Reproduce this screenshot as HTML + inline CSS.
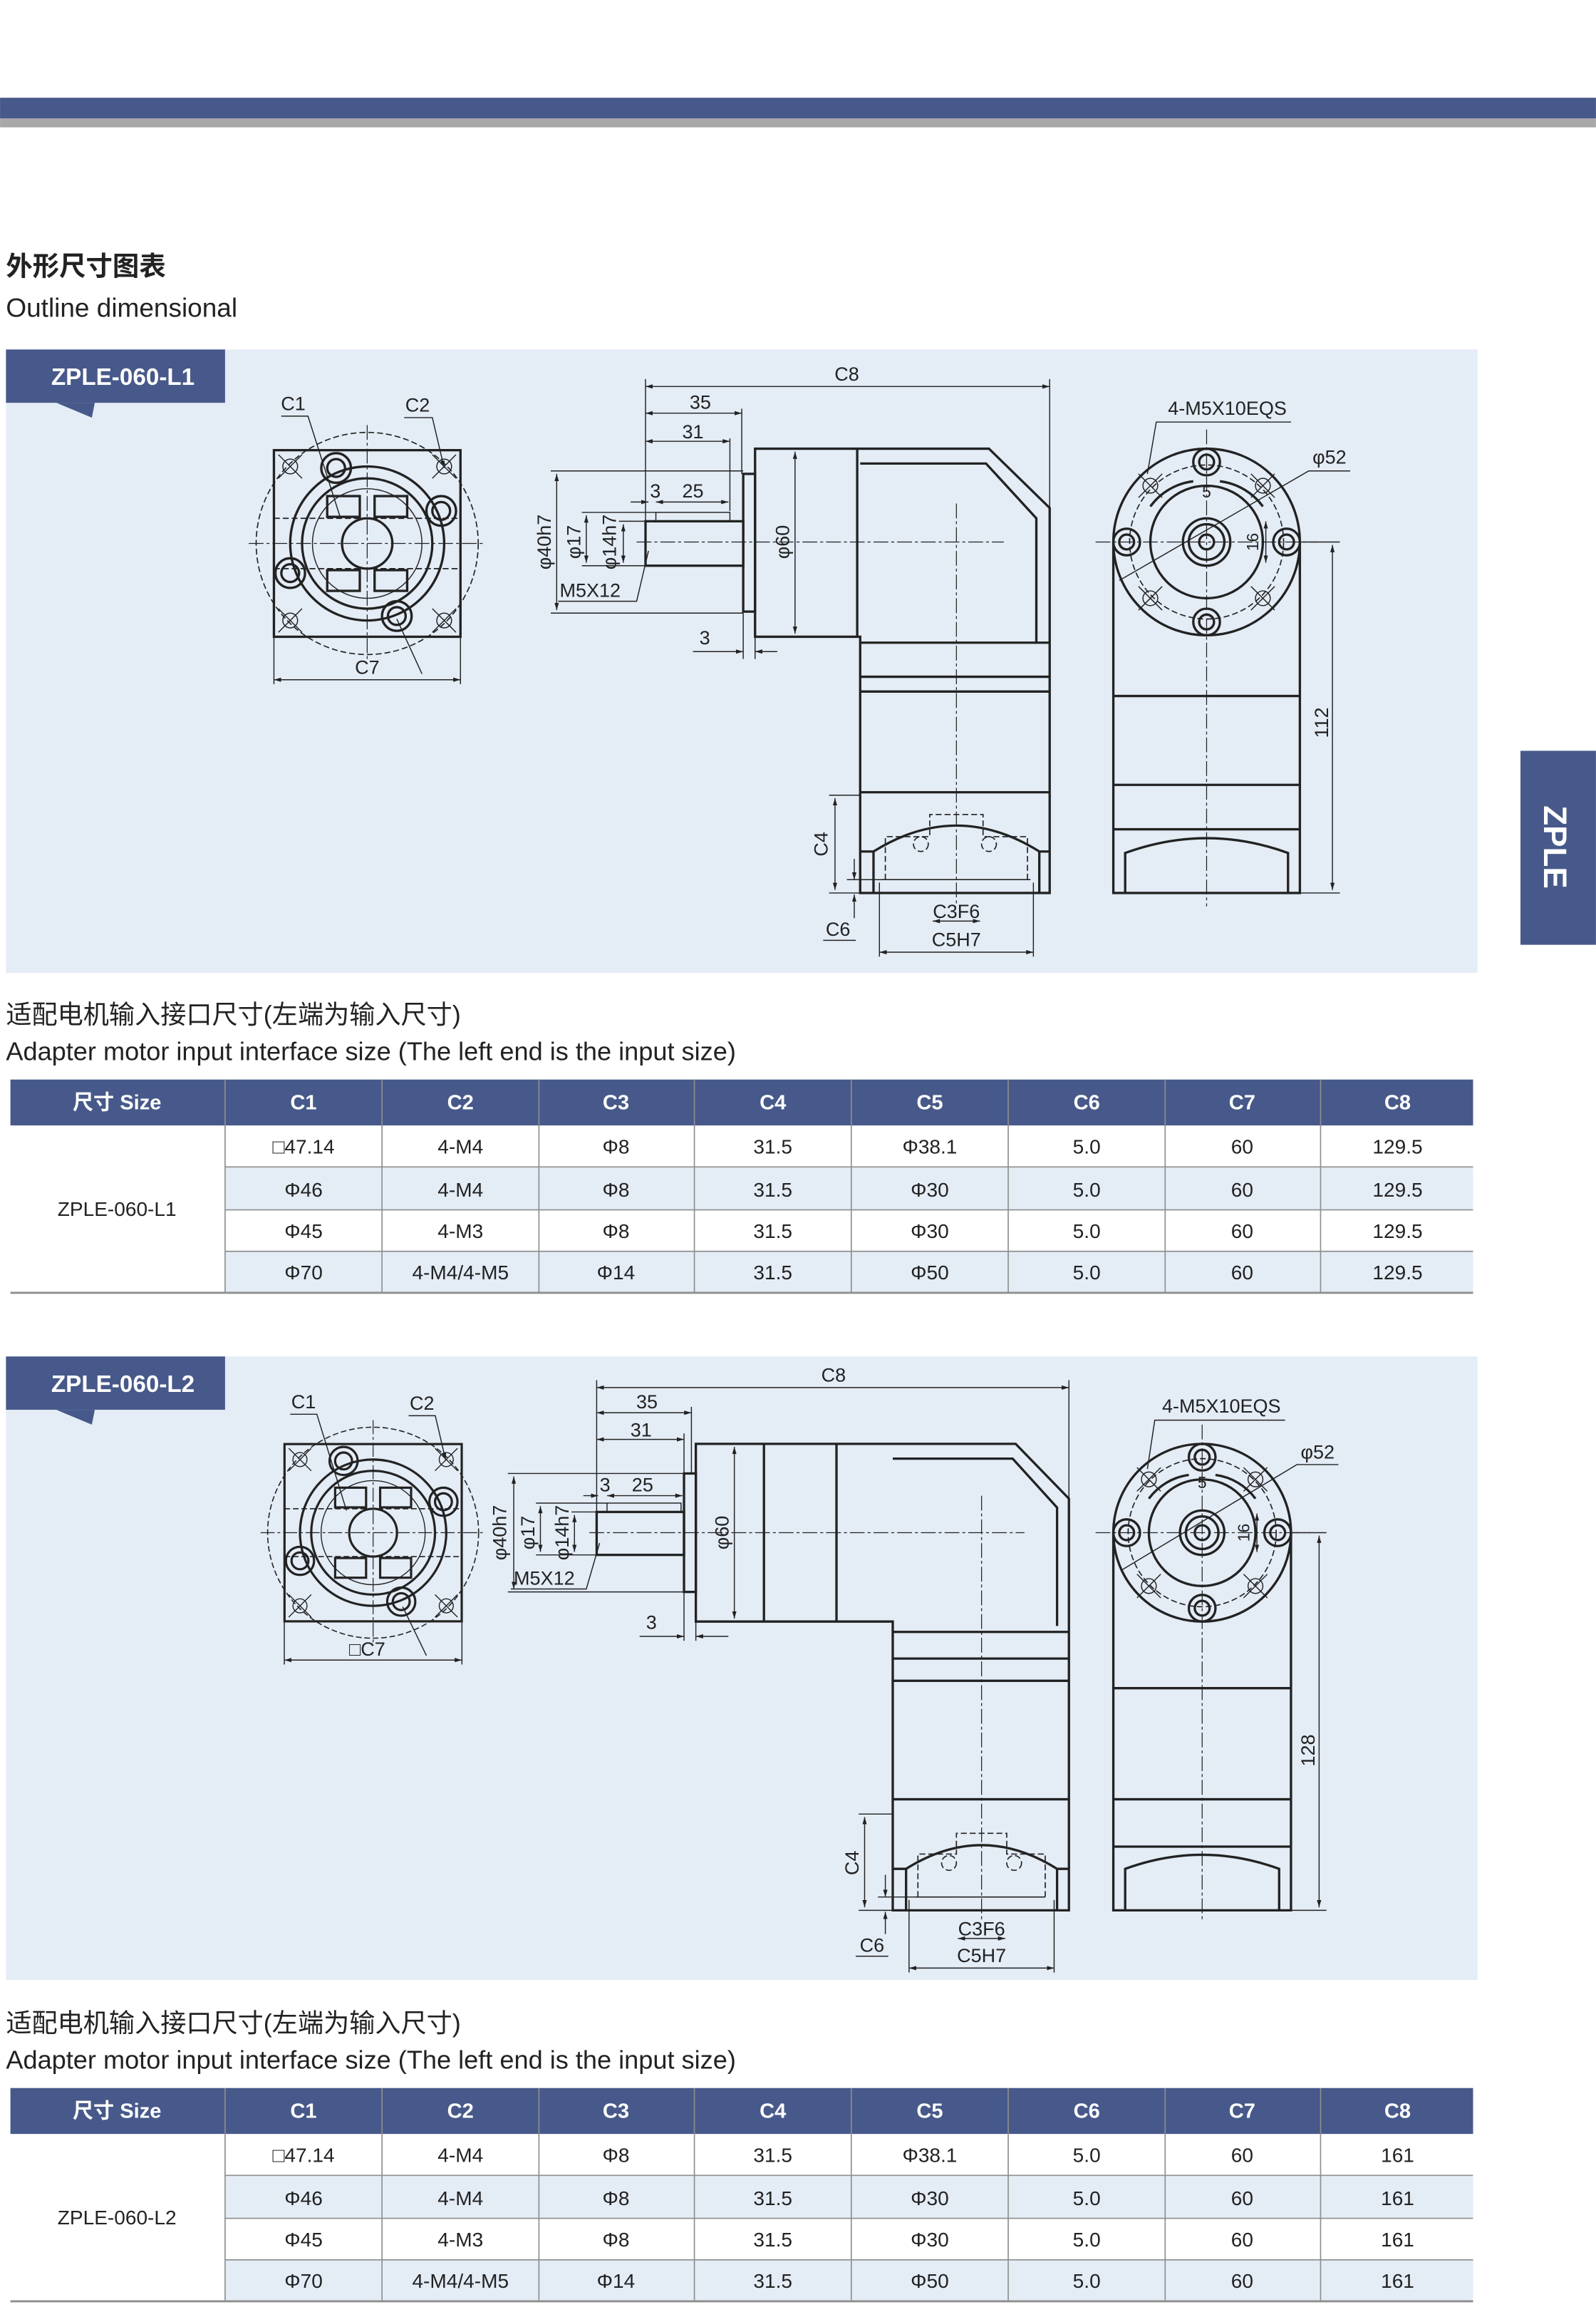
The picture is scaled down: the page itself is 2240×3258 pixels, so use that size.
<!DOCTYPE html>
<html><head><meta charset="utf-8">
<style>
html,body{margin:0;padding:0;background:#fff;}
svg{display:block;}
text{font-family:"Liberation Sans","Noto Sans CJK SC",sans-serif;fill:#222;}
.k{stroke:#222;fill:none;stroke-width:1.6;}
.t{stroke:#222;fill:none;stroke-width:0.7;}
.d{stroke:#222;fill:none;stroke-width:0.8;stroke-dasharray:4 2;}
.c{stroke:#222;fill:none;stroke-width:0.6;stroke-dasharray:10 2 2 2;}
.lab{font-size:13px;}
.th{font-size:14px;font-weight:bold;fill:#fff;}
.td{font-size:13.5px;fill:#222;}
</style></head><body>
<svg width="2240" height="3258" viewBox="0 0 1078 1568" xmlns="http://www.w3.org/2000/svg">
<defs>
<marker id="a" viewBox="0 0 10 10" refX="10" refY="5" markerWidth="7" markerHeight="7" orient="auto-start-reverse"><path d="M0,2 L10,5 L0,8 z" fill="#222"/></marker>
<g id="fl">
<rect x="-63" y="-63" width="126" height="126" class="k"/>
<circle r="75" class="d"/>
<circle r="52" class="k"/><circle r="44" class="k"/><circle r="37" class="t"/>
<circle r="17" class="k"/>
<line x1="-80" y1="0" x2="80" y2="0" class="c"/><line x1="0" y1="-80" x2="0" y2="80" class="c"/>
<line x1="-63" y1="-17" x2="63" y2="-17" class="d"/><line x1="-63" y1="17" x2="63" y2="17" class="d"/>
<rect x="-27" y="-32" width="22" height="14" class="k"/><rect x="5" y="-32" width="22" height="14" class="k"/>
<rect x="-27" y="18" width="22" height="14" class="k"/><rect x="5" y="18" width="22" height="14" class="k"/>
<g class="k"><circle cx="-21" cy="-51" r="10"/><circle cx="-21" cy="-51" r="6"/>
<circle cx="50" cy="-22" r="10"/><circle cx="50" cy="-22" r="6"/>
<circle cx="-52" cy="20" r="10"/><circle cx="-52" cy="20" r="6"/>
<circle cx="20" cy="49" r="10"/><circle cx="20" cy="49" r="6"/></g>
<g class="t"><circle cx="-52" cy="-52" r="5"/><circle cx="52" cy="-52" r="5"/><circle cx="-52" cy="52" r="5"/><circle cx="52" cy="52" r="5"/>
<path d="M-60,-60 L-44,-44 M-44,-60 L-60,-44 M44,-60 L60,-44 M60,-60 L44,-44 M-60,44 L-44,60 M-44,44 L-60,60 M44,44 L60,60 M60,44 L44,60"/></g>
</g>
</defs>

<rect width="1078" height="1568" fill="#fff"/>
<rect x="0" y="66" width="1078" height="14" fill="#47598a"/>
<rect x="0" y="80" width="1078" height="6" fill="#a8a8a8"/>
<text x="4" y="186" style="font-size:18px;font-weight:bold">外形尺寸图表</text>
<text x="4" y="214" style="font-size:17.8px">Outline dimensional</text>

<rect x="1027" y="507" width="51" height="131" fill="#47598a"/>
<text transform="translate(1043,572) rotate(90)" text-anchor="middle" style="font-size:22px;font-weight:bold;fill:#fff">ZPLE</text>

<!-- PANEL 1 -->
<rect x="4" y="236" width="994" height="421" fill="#e4ecf6"/>
<rect x="4" y="236" width="148" height="36" fill="#47598a"/>
<path d="M38,272 L64,272 L62,282 z" fill="#47598a"/>
<text x="83" y="260" text-anchor="middle" style="font-size:16px;font-weight:bold;fill:#fff">ZPLE-060-L1</text>

<use href="#fl" x="248" y="367"/>
<text x="198" y="277" class="lab" text-anchor="middle">C1</text>
<text x="282" y="278" class="lab" text-anchor="middle">C2</text>
<path d="M190,281 L208,281 L230,350" class="t"/>
<path d="M273,282 L292,282 L300,316" class="t" marker-end="url(#a)"/>
<line x1="268" y1="418" x2="285" y2="455" class="t"/>
<text x="248" y="455" class="lab" text-anchor="middle">C7</text>
<line x1="185" y1="459" x2="311" y2="459" class="t" marker-start="url(#a)" marker-end="url(#a)"/>
<line x1="185" y1="430" x2="185" y2="462" class="t"/><line x1="311" y1="430" x2="311" y2="462" class="t"/>

<g>
<line x1="436" y1="256" x2="436" y2="352" class="t"/><line x1="709" y1="256" x2="709" y2="345" class="t"/>
<line x1="436" y1="261" x2="709" y2="261" class="t" marker-start="url(#a)" marker-end="url(#a)"/>
<text x="572" y="257" class="lab" text-anchor="middle">C8</text>
<line x1="501" y1="276" x2="501" y2="320" class="t"/>
<line x1="436" y1="279" x2="501" y2="279" class="t" marker-start="url(#a)" marker-end="url(#a)"/>
<text x="473" y="276" class="lab" text-anchor="middle">35</text>
<line x1="436" y1="298" x2="493" y2="298" class="t" marker-start="url(#a)" marker-end="url(#a)"/>
<text x="468" y="296" class="lab" text-anchor="middle">31</text>
<line x1="493" y1="296" x2="493" y2="345" class="t"/>
<text x="439" y="336" class="lab">3</text><text x="468" y="336" class="lab" text-anchor="middle">25</text>
<line x1="426" y1="339" x2="438" y2="339" class="t" marker-end="url(#a)"/>
<line x1="443" y1="339" x2="492" y2="339" class="t" marker-start="url(#a)" marker-end="url(#a)"/>
<rect x="436" y="352" width="66" height="30" class="k"/>
<rect x="443" y="346" width="50" height="6" class="t"/>
<rect x="502" y="320" width="8" height="93" class="k"/>
<path d="M510,303 L668,303 L709,343 L709,603 L581,603 L581,430 L510,430 Z" class="k"/>
<line x1="579" y1="303" x2="579" y2="430" class="k"/>
<path d="M581,313 L666,313 L700,350 L700,434" class="k"/>
<line x1="581" y1="434" x2="709" y2="434" class="k"/>
<line x1="581" y1="457" x2="709" y2="457" class="k"/>
<line x1="581" y1="467" x2="709" y2="467" class="k"/>
<line x1="581" y1="535" x2="709" y2="535" class="k"/>
<path d="M581,575 L590,575 Q646,540 702,575 L709,575" class="k"/>
<line x1="590" y1="575" x2="590" y2="603" class="k"/><line x1="702" y1="575" x2="702" y2="603" class="k"/>
<path d="M598,594 L598,565 L628,565 L628,550 L664,550 L664,565 L694,565 L694,594 Z M596,594 L696,594" class="d"/>
<circle cx="622" cy="570" r="5" class="d"/><circle cx="668" cy="570" r="5" class="d"/>
<line x1="646" y1="340" x2="646" y2="612" class="c"/>
<line x1="430" y1="366" x2="678" y2="366" class="c"/>
<line x1="372" y1="318" x2="502" y2="318" class="t"/><line x1="372" y1="414" x2="502" y2="414" class="t"/>
<line x1="376" y1="320" x2="376" y2="412" class="t" marker-start="url(#a)" marker-end="url(#a)"/>
<text transform="translate(372,366) rotate(-90)" class="lab" text-anchor="middle">φ40h7</text>
<line x1="393" y1="346" x2="443" y2="346" class="t"/><line x1="393" y1="382" x2="436" y2="382" class="t"/>
<line x1="396" y1="348" x2="396" y2="380" class="t" marker-start="url(#a)" marker-end="url(#a)"/>
<text transform="translate(392,366) rotate(-90)" class="lab" text-anchor="middle">φ17</text>
<line x1="418" y1="352" x2="436" y2="352" class="t"/>
<line x1="421" y1="354" x2="421" y2="380" class="t" marker-start="url(#a)" marker-end="url(#a)"/>
<text transform="translate(416,366) rotate(-90)" class="lab" text-anchor="middle">φ14h7</text>
<text x="378" y="403" class="lab">M5X12</text>
<path d="M377,406 L430,406 L438,372" class="t"/>
<text x="476" y="435" class="lab" text-anchor="middle">3</text>
<line x1="468" y1="440" x2="502" y2="440" class="t" marker-end="url(#a)"/>
<line x1="510" y1="440" x2="525" y2="440" class="t" marker-start="url(#a)"/>
<line x1="502" y1="414" x2="502" y2="445" class="t"/><line x1="510" y1="430" x2="510" y2="445" class="t"/>
<line x1="537" y1="305" x2="537" y2="428" class="t" marker-start="url(#a)" marker-end="url(#a)"/>
<text transform="translate(533,366) rotate(-90)" class="lab" text-anchor="middle">φ60</text>
<line x1="560" y1="537" x2="581" y2="537" class="t"/><line x1="560" y1="603" x2="590" y2="603" class="t"/>
<line x1="564" y1="539" x2="564" y2="601" class="t" marker-start="url(#a)" marker-end="url(#a)"/>
<text transform="translate(559,570) rotate(-90)" class="lab" text-anchor="middle">C4</text>
<line x1="577" y1="580" x2="577" y2="594" class="t" marker-end="url(#a)"/>
<line x1="577" y1="620" x2="577" y2="604" class="t" marker-end="url(#a)"/>
<line x1="572" y1="594" x2="598" y2="594" class="t"/>
<text x="566" y="632" class="lab" text-anchor="middle">C6</text>
<line x1="556" y1="635" x2="578" y2="635" class="t"/>
<text x="646" y="620" class="lab" text-anchor="middle">C3F6</text>
<line x1="630" y1="622" x2="662" y2="622" class="t" marker-start="url(#a)" marker-end="url(#a)"/>
<text x="646" y="639" class="lab" text-anchor="middle">C5H7</text>
<line x1="594" y1="643" x2="698" y2="643" class="t" marker-start="url(#a)" marker-end="url(#a)"/>
<line x1="594" y1="596" x2="594" y2="646" class="t"/><line x1="698" y1="596" x2="698" y2="646" class="t"/>
</g>

<g>
<path d="M752,366 L752,603 L878,603 L878,366" class="k"/>
<circle cx="815" cy="366" r="63" class="k" fill="#e4ecf6"/>
<circle cx="815" cy="366" r="52" class="d"/>
<path d="M777,342 A42,42 0 0 1 806,325 M824,325 A42,42 0 0 1 853,342" class="k"/>
<circle cx="815" cy="366" r="38" class="k"/>
<circle cx="815" cy="366" r="16" class="k"/><circle cx="815" cy="366" r="12" class="k"/><circle cx="815" cy="366" r="5" class="k"/>
<g class="k"><circle cx="815" cy="312" r="9"/><circle cx="815" cy="312" r="5"/><circle cx="815" cy="420" r="9"/><circle cx="815" cy="420" r="5"/>
<circle cx="761" cy="366" r="9"/><circle cx="761" cy="366" r="5"/><circle cx="869" cy="366" r="9"/><circle cx="869" cy="366" r="5"/></g>
<g class="t"><circle cx="777" cy="328" r="5"/><circle cx="853" cy="328" r="5"/><circle cx="777" cy="404" r="5"/><circle cx="853" cy="404" r="5"/>
<path d="M769,320 L785,336 M785,320 L769,336 M845,320 L861,336 M861,320 L845,336 M769,396 L785,412 M785,396 L769,412 M845,396 L861,412 M861,396 L845,412"/></g>
<line x1="740" y1="366" x2="890" y2="366" class="c"/>
<line x1="815" y1="290" x2="815" y2="612" class="c"/>
<line x1="752" y1="470" x2="878" y2="470" class="k"/>
<line x1="752" y1="530" x2="878" y2="530" class="k"/>
<line x1="752" y1="560" x2="878" y2="560" class="k"/>
<path d="M760,603 L760,576 Q815,556 870,576 L870,603" class="k"/>
<line x1="878" y1="366" x2="905" y2="366" class="t"/><line x1="878" y1="603" x2="905" y2="603" class="t"/>
<line x1="900" y1="368" x2="900" y2="601" class="t" marker-start="url(#a)" marker-end="url(#a)"/>
<text transform="translate(897,488) rotate(-90)" class="lab" text-anchor="middle">112</text>
<text x="829" y="280" class="lab" text-anchor="middle">4-M5X10EQS</text>
<path d="M872,285 L781,285 L775,320" class="t"/>
<text x="898" y="313" class="lab" text-anchor="middle">φ52</text>
<path d="M912,318 L884,318 L756,392" class="t"/>
<text transform="translate(850,366) rotate(-90)" class="lab" text-anchor="middle" style="font-size:11px">16</text>
<line x1="855" y1="352" x2="855" y2="380" class="t" marker-start="url(#a)" marker-end="url(#a)"/>
<text x="815" y="336" class="lab" text-anchor="middle" style="font-size:11px">5</text>
</g>

<text x="4" y="691" style="font-size:17.4px">适配电机输入接口尺寸(左端为输入尺寸)</text>
<text x="4" y="716" style="font-size:17.4px">Adapter motor input interface size (The left end is the input size)</text>

<g>
<rect x="7" y="729" width="988" height="31" fill="#47598a"/>
<rect x="152" y="788" width="843" height="29" fill="#e4ecf6"/>
<rect x="152" y="845" width="843" height="28" fill="#e4ecf6"/>
<g stroke="#8e8e8e" stroke-width="0.8">
<line x1="152" y1="729" x2="152" y2="873"/><line x1="258" y1="729" x2="258" y2="873"/><line x1="364" y1="729" x2="364" y2="873"/><line x1="469" y1="729" x2="469" y2="873"/><line x1="575" y1="729" x2="575" y2="873"/><line x1="681" y1="729" x2="681" y2="873"/><line x1="787" y1="729" x2="787" y2="873"/><line x1="892" y1="729" x2="892" y2="873"/>
<line x1="152" y1="788" x2="995" y2="788"/><line x1="152" y1="817" x2="995" y2="817"/><line x1="152" y1="845" x2="995" y2="845"/>
<line x1="7" y1="873" x2="995" y2="873" stroke-width="1.4"/></g>
<g text-anchor="middle">
<text x="79" y="749" class="th">尺寸 Size</text><text x="205" y="749" class="th">C1</text><text x="311" y="749" class="th">C2</text><text x="416" y="749" class="th">C3</text><text x="522" y="749" class="th">C4</text><text x="628" y="749" class="th">C5</text><text x="734" y="749" class="th">C6</text><text x="839" y="749" class="th">C7</text><text x="944" y="749" class="th">C8</text>
<text x="79" y="821" class="td">ZPLE-060-L1</text>
<text x="205" y="779" class="td">□47.14</text><text x="311" y="779" class="td">4-M4</text><text x="416" y="779" class="td">Φ8</text><text x="522" y="779" class="td">31.5</text><text x="628" y="779" class="td">Φ38.1</text><text x="734" y="779" class="td">5.0</text><text x="839" y="779" class="td">60</text><text x="944" y="779" class="td">129.5</text>
<text x="205" y="808" class="td">Φ46</text><text x="311" y="808" class="td">4-M4</text><text x="416" y="808" class="td">Φ8</text><text x="522" y="808" class="td">31.5</text><text x="628" y="808" class="td">Φ30</text><text x="734" y="808" class="td">5.0</text><text x="839" y="808" class="td">60</text><text x="944" y="808" class="td">129.5</text>
<text x="205" y="836" class="td">Φ45</text><text x="311" y="836" class="td">4-M3</text><text x="416" y="836" class="td">Φ8</text><text x="522" y="836" class="td">31.5</text><text x="628" y="836" class="td">Φ30</text><text x="734" y="836" class="td">5.0</text><text x="839" y="836" class="td">60</text><text x="944" y="836" class="td">129.5</text>
<text x="205" y="864" class="td">Φ70</text><text x="311" y="864" class="td">4-M4/4-M5</text><text x="416" y="864" class="td">Φ14</text><text x="522" y="864" class="td">31.5</text><text x="628" y="864" class="td">Φ50</text><text x="734" y="864" class="td">5.0</text><text x="839" y="864" class="td">60</text><text x="944" y="864" class="td">129.5</text>
</g>
</g>

<!-- PANEL 2 -->
<rect x="4" y="916" width="994" height="421" fill="#e4ecf6"/>
<rect x="4" y="916" width="148" height="36" fill="#47598a"/>
<path d="M38,952 L64,952 L62,962 z" fill="#47598a"/>
<text x="83" y="940" text-anchor="middle" style="font-size:16px;font-weight:bold;fill:#fff">ZPLE-060-L2</text>

<g transform="translate(252,1035) scale(0.95) translate(-252,-1035)"><use href="#fl" x="252" y="1035"/></g>
<text x="205" y="951" class="lab" text-anchor="middle">C1</text>
<text x="285" y="952" class="lab" text-anchor="middle">C2</text>
<path d="M196,955 L214,955 L234,1020" class="t"/>
<path d="M276,956 L294,956 L301,986" class="t" marker-end="url(#a)"/>
<line x1="272" y1="1085" x2="288" y2="1118" class="t"/>
<text x="248" y="1118" class="lab" text-anchor="middle">□C7</text>
<line x1="192" y1="1121" x2="312" y2="1121" class="t" marker-start="url(#a)" marker-end="url(#a)"/>
<line x1="192" y1="1095" x2="192" y2="1124" class="t"/><line x1="312" y1="1095" x2="312" y2="1124" class="t"/>

<g>
<line x1="403" y1="932" x2="403" y2="1022" class="t"/><line x1="722" y1="932" x2="722" y2="1015" class="t"/>
<line x1="403" y1="937" x2="722" y2="937" class="t" marker-start="url(#a)" marker-end="url(#a)"/>
<text x="563" y="933" class="lab" text-anchor="middle">C8</text>
<line x1="467" y1="950" x2="467" y2="995" class="t"/>
<line x1="403" y1="954" x2="467" y2="954" class="t" marker-start="url(#a)" marker-end="url(#a)"/>
<text x="437" y="951" class="lab" text-anchor="middle">35</text>
<line x1="403" y1="972" x2="462" y2="972" class="t" marker-start="url(#a)" marker-end="url(#a)"/>
<text x="433" y="970" class="lab" text-anchor="middle">31</text>
<line x1="462" y1="968" x2="462" y2="1018" class="t"/>
<text x="405" y="1007" class="lab">3</text><text x="434" y="1007" class="lab" text-anchor="middle">25</text>
<line x1="394" y1="1010" x2="404" y2="1010" class="t" marker-end="url(#a)"/>
<line x1="410" y1="1010" x2="461" y2="1010" class="t" marker-start="url(#a)" marker-end="url(#a)"/>
<rect x="403" y="1021" width="59" height="29" class="k"/>
<rect x="410" y="1015" width="50" height="6" class="t"/>
<rect x="462" y="995" width="8" height="80" class="k"/>
<path d="M470,975 L686,975 L722,1012 L722,1290 L603,1290 L603,1095 L470,1095 Z" class="k"/>
<line x1="516" y1="975" x2="516" y2="1095" class="k"/><line x1="565" y1="975" x2="565" y2="1095" class="k"/>
<path d="M603,985 L684,985 L714,1018 L714,1098" class="k"/>
<line x1="603" y1="1102" x2="722" y2="1102" class="k"/>
<line x1="603" y1="1120" x2="722" y2="1120" class="k"/>
<line x1="603" y1="1135" x2="722" y2="1135" class="k"/>
<line x1="603" y1="1215" x2="722" y2="1215" class="k"/>
<path d="M603,1262 L612,1262 Q663,1230 714,1262 L722,1262" class="k"/>
<line x1="612" y1="1262" x2="612" y2="1290" class="k"/><line x1="714" y1="1262" x2="714" y2="1290" class="k"/>
<path d="M620,1281 L620,1252 L646,1252 L646,1238 L680,1238 L680,1252 L706,1252 L706,1281 Z M618,1281 L708,1281" class="d"/>
<circle cx="641" cy="1258" r="5" class="d"/><circle cx="685" cy="1258" r="5" class="d"/>
<line x1="663" y1="1010" x2="663" y2="1298" class="c"/>
<line x1="398" y1="1035" x2="692" y2="1035" class="c"/>
<line x1="343" y1="995" x2="470" y2="995" class="t"/><line x1="343" y1="1075" x2="470" y2="1075" class="t"/>
<line x1="347" y1="997" x2="347" y2="1073" class="t" marker-start="url(#a)" marker-end="url(#a)"/>
<text transform="translate(342,1035) rotate(-90)" class="lab" text-anchor="middle">φ40h7</text>
<line x1="362" y1="1015" x2="410" y2="1015" class="t"/><line x1="362" y1="1050" x2="403" y2="1050" class="t"/>
<line x1="365" y1="1017" x2="365" y2="1048" class="t" marker-start="url(#a)" marker-end="url(#a)"/>
<text transform="translate(361,1035) rotate(-90)" class="lab" text-anchor="middle">φ17</text>
<line x1="386" y1="1021" x2="403" y2="1021" class="t"/>
<line x1="388" y1="1023" x2="388" y2="1048" class="t" marker-start="url(#a)" marker-end="url(#a)"/>
<text transform="translate(384,1035) rotate(-90)" class="lab" text-anchor="middle">φ14h7</text>
<text x="347" y="1070" class="lab">M5X12</text>
<path d="M345,1073 L396,1073 L405,1042" class="t"/>
<text x="440" y="1100" class="lab" text-anchor="middle">3</text>
<line x1="432" y1="1105" x2="462" y2="1105" class="t" marker-end="url(#a)"/>
<line x1="470" y1="1105" x2="492" y2="1105" class="t" marker-start="url(#a)"/>
<line x1="462" y1="1075" x2="462" y2="1108" class="t"/><line x1="470" y1="1095" x2="470" y2="1108" class="t"/>
<line x1="496" y1="977" x2="496" y2="1093" class="t" marker-start="url(#a)" marker-end="url(#a)"/>
<text transform="translate(492,1035) rotate(-90)" class="lab" text-anchor="middle">φ60</text>
<line x1="580" y1="1225" x2="603" y2="1225" class="t"/><line x1="580" y1="1290" x2="612" y2="1290" class="t"/>
<line x1="584" y1="1227" x2="584" y2="1288" class="t" marker-start="url(#a)" marker-end="url(#a)"/>
<text transform="translate(580,1258) rotate(-90)" class="lab" text-anchor="middle">C4</text>
<line x1="598" y1="1266" x2="598" y2="1281" class="t" marker-end="url(#a)"/>
<line x1="598" y1="1306" x2="598" y2="1291" class="t" marker-end="url(#a)"/>
<line x1="593" y1="1281" x2="620" y2="1281" class="t"/>
<text x="589" y="1318" class="lab" text-anchor="middle">C6</text>
<line x1="578" y1="1321" x2="600" y2="1321" class="t"/>
<text x="663" y="1307" class="lab" text-anchor="middle">C3F6</text>
<line x1="647" y1="1309" x2="679" y2="1309" class="t" marker-start="url(#a)" marker-end="url(#a)"/>
<text x="663" y="1325" class="lab" text-anchor="middle">C5H7</text>
<line x1="614" y1="1329" x2="712" y2="1329" class="t" marker-start="url(#a)" marker-end="url(#a)"/>
<line x1="614" y1="1283" x2="614" y2="1332" class="t"/><line x1="712" y1="1283" x2="712" y2="1332" class="t"/>
</g>

<g>
<path d="M752,1035 L752,1290 L872,1290 L872,1035" class="k"/>
<circle cx="812" cy="1035" r="60" class="k" fill="#e4ecf6"/>
<circle cx="812" cy="1035" r="50" class="d"/>
<path d="M776,1012 A40,40 0 0 1 803,996 M821,996 A40,40 0 0 1 848,1012" class="k"/>
<circle cx="812" cy="1035" r="36" class="k"/>
<circle cx="812" cy="1035" r="15" class="k"/><circle cx="812" cy="1035" r="11" class="k"/><circle cx="812" cy="1035" r="5" class="k"/>
<g class="k"><circle cx="812" cy="984" r="9"/><circle cx="812" cy="984" r="5"/><circle cx="812" cy="1086" r="9"/><circle cx="812" cy="1086" r="5"/>
<circle cx="761" cy="1035" r="9"/><circle cx="761" cy="1035" r="5"/><circle cx="863" cy="1035" r="9"/><circle cx="863" cy="1035" r="5"/></g>
<g class="t"><circle cx="776" cy="999" r="5"/><circle cx="848" cy="999" r="5"/><circle cx="776" cy="1071" r="5"/><circle cx="848" cy="1071" r="5"/>
<path d="M768,991 L784,1007 M784,991 L768,1007 M840,991 L856,1007 M856,991 L840,1007 M768,1063 L784,1079 M784,1063 L768,1079 M840,1063 L856,1079 M856,1063 L840,1079"/></g>
<line x1="740" y1="1035" x2="885" y2="1035" class="c"/>
<line x1="812" y1="962" x2="812" y2="1298" class="c"/>
<line x1="752" y1="1140" x2="872" y2="1140" class="k"/>
<line x1="752" y1="1215" x2="872" y2="1215" class="k"/>
<line x1="752" y1="1247" x2="872" y2="1247" class="k"/>
<path d="M760,1290 L760,1262 Q812,1243 864,1262 L864,1290" class="k"/>
<line x1="872" y1="1035" x2="896" y2="1035" class="t"/><line x1="872" y1="1290" x2="896" y2="1290" class="t"/>
<line x1="891" y1="1037" x2="891" y2="1288" class="t" marker-start="url(#a)" marker-end="url(#a)"/>
<text transform="translate(888,1182) rotate(-90)" class="lab" text-anchor="middle">128</text>
<text x="825" y="954" class="lab" text-anchor="middle">4-M5X10EQS</text>
<path d="M868,959 L780,959 L775,992" class="t"/>
<text x="890" y="985" class="lab" text-anchor="middle">φ52</text>
<path d="M904,989 L876,989 L758,1060" class="t"/>
<text transform="translate(844,1035) rotate(-90)" class="lab" text-anchor="middle" style="font-size:11px">16</text>
<line x1="849" y1="1022" x2="849" y2="1048" class="t" marker-start="url(#a)" marker-end="url(#a)"/>
<text x="812" y="1005" class="lab" text-anchor="middle" style="font-size:11px">5</text>
</g>

<text x="4" y="1372" style="font-size:17.4px">适配电机输入接口尺寸(左端为输入尺寸)</text>
<text x="4" y="1397" style="font-size:17.4px">Adapter motor input interface size (The left end is the input size)</text>

<g>
<rect x="7" y="1410" width="988" height="31" fill="#47598a"/>
<rect x="152" y="1469" width="843" height="29" fill="#e4ecf6"/>
<rect x="152" y="1526" width="843" height="28" fill="#e4ecf6"/>
<g stroke="#8e8e8e" stroke-width="0.8">
<line x1="152" y1="1410" x2="152" y2="1554"/><line x1="258" y1="1410" x2="258" y2="1554"/><line x1="364" y1="1410" x2="364" y2="1554"/><line x1="469" y1="1410" x2="469" y2="1554"/><line x1="575" y1="1410" x2="575" y2="1554"/><line x1="681" y1="1410" x2="681" y2="1554"/><line x1="787" y1="1410" x2="787" y2="1554"/><line x1="892" y1="1410" x2="892" y2="1554"/>
<line x1="152" y1="1469" x2="995" y2="1469"/><line x1="152" y1="1498" x2="995" y2="1498"/><line x1="152" y1="1526" x2="995" y2="1526"/>
<line x1="7" y1="1554" x2="995" y2="1554" stroke-width="1.4"/></g>
<g text-anchor="middle">
<text x="79" y="1430" class="th">尺寸 Size</text><text x="205" y="1430" class="th">C1</text><text x="311" y="1430" class="th">C2</text><text x="416" y="1430" class="th">C3</text><text x="522" y="1430" class="th">C4</text><text x="628" y="1430" class="th">C5</text><text x="734" y="1430" class="th">C6</text><text x="839" y="1430" class="th">C7</text><text x="944" y="1430" class="th">C8</text>
<text x="79" y="1502" class="td">ZPLE-060-L2</text>
<text x="205" y="1460" class="td">□47.14</text><text x="311" y="1460" class="td">4-M4</text><text x="416" y="1460" class="td">Φ8</text><text x="522" y="1460" class="td">31.5</text><text x="628" y="1460" class="td">Φ38.1</text><text x="734" y="1460" class="td">5.0</text><text x="839" y="1460" class="td">60</text><text x="944" y="1460" class="td">161</text>
<text x="205" y="1489" class="td">Φ46</text><text x="311" y="1489" class="td">4-M4</text><text x="416" y="1489" class="td">Φ8</text><text x="522" y="1489" class="td">31.5</text><text x="628" y="1489" class="td">Φ30</text><text x="734" y="1489" class="td">5.0</text><text x="839" y="1489" class="td">60</text><text x="944" y="1489" class="td">161</text>
<text x="205" y="1517" class="td">Φ45</text><text x="311" y="1517" class="td">4-M3</text><text x="416" y="1517" class="td">Φ8</text><text x="522" y="1517" class="td">31.5</text><text x="628" y="1517" class="td">Φ30</text><text x="734" y="1517" class="td">5.0</text><text x="839" y="1517" class="td">60</text><text x="944" y="1517" class="td">161</text>
<text x="205" y="1545" class="td">Φ70</text><text x="311" y="1545" class="td">4-M4/4-M5</text><text x="416" y="1545" class="td">Φ14</text><text x="522" y="1545" class="td">31.5</text><text x="628" y="1545" class="td">Φ50</text><text x="734" y="1545" class="td">5.0</text><text x="839" y="1545" class="td">60</text><text x="944" y="1545" class="td">161</text>
</g>
</g>
</svg>
</body></html>
